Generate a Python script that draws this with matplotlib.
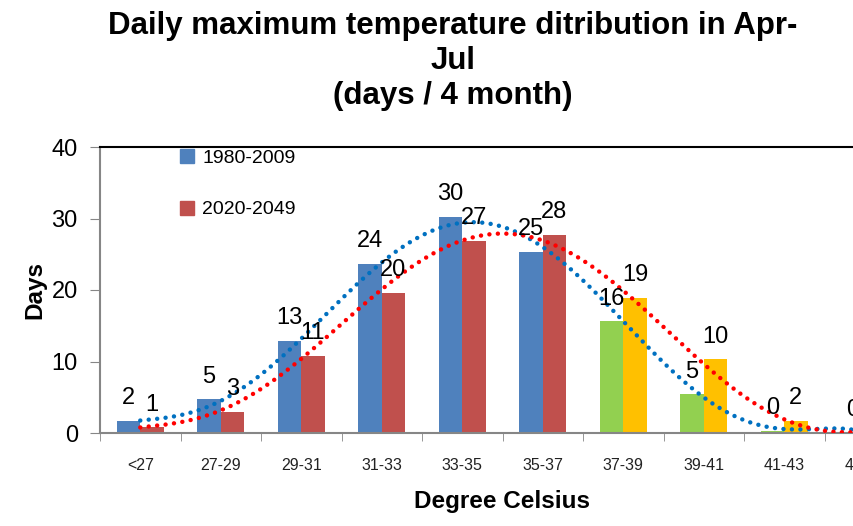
import numpy as np
import matplotlib
matplotlib.use("Agg")
import matplotlib.pyplot as plt
from matplotlib.patches import Patch

plt.rcParams['font.family'] = ['Liberation Sans', 'DejaVu Sans']

categories = ["<27", "27-29", "29-31", "31-33", "33-35", "35-37",
              "37-39", "39-41", "41-43", "43-45"]
days_1980_2009 = [1.7, 4.7, 12.9, 23.7, 30.2, 25.3, 15.6, 5.4, 0.3, 0.1]
days_2020_2049 = [0.8, 3.0, 10.8, 19.6, 26.9, 27.7, 18.9, 10.3, 1.7, 0.2]

# first six bins blue/red, hot bins green/orange
colors_past = ["#4F81BD"] * 6 + ["#92D050"] * 4
colors_future = ["#C0504D"] * 6 + ["#FFC000"] * 4

fig = plt.figure(figsize=(8.54, 5.26), dpi=100)
ax = fig.add_axes([100 / 854, 93 / 526, 805 / 854, 286 / 526])

x = np.arange(len(categories))
w = 0.29
b1 = ax.bar(x - w / 2, days_1980_2009, w, color=colors_past, zorder=2)
b2 = ax.bar(x + w / 2, days_2020_2049, w, color=colors_future, zorder=2)

for bars, vals in ((b1, days_1980_2009), (b2, days_2020_2049)):
    for r, v in zip(bars, vals):
        ax.annotate(f"{v:.0f}", (r.get_x() + r.get_width() / 2, v),
                    xytext=(0, 12), textcoords="offset points",
                    ha="center", va="baseline", fontsize=17, zorder=4,
                    annotation_clip=False)

# polynomial trendlines (order 6, like the spreadsheet)
xs = np.linspace(0, len(categories) - 1, 400)
for vals, col in ((days_1980_2009, "#0070C0"), (days_2020_2049, "#FF0000")):
    p = np.polyfit(x, vals, 6)
    ax.plot(xs, np.polyval(p, xs), color=col, lw=3.2,
            linestyle=(0, (0.01, 1.9)), dash_capstyle="round", zorder=3)

ax.set_xlim(-0.5, len(categories) - 0.5)
ax.set_ylim(0, 40)
ax.set_yticks([0, 10, 20, 30, 40])
ax.tick_params(axis="y", labelsize=17, length=7, color="#868686", pad=9)

ax.set_xticks(x)
ax.set_xticklabels(categories, fontsize=11.5, color="#222222")
ax.set_xticks(np.arange(len(categories) + 1) - 0.5, minor=True)
ax.tick_params(axis="x", which="major", length=0, pad=18)
ax.tick_params(axis="x", which="minor", length=6, color="#868686")

for s in ("left", "bottom"):
    ax.spines[s].set_color("#868686")
    ax.spines[s].set_linewidth(1.5)
ax.spines["top"].set_color("black")
ax.spines["top"].set_linewidth(1.5)
ax.spines["right"].set_visible(False)

ax.set_ylabel("Days", fontsize=17.5, fontweight="bold", labelpad=4)
ax.set_xlabel("Degree Celsius", fontsize=17.5, fontweight="bold", labelpad=12)

handles = [Patch(color="#4F81BD", label="1980-2009"),
           Patch(color="#C0504D", label="2020-2049")]
ax.legend(handles=handles, loc="upper left", bbox_to_anchor=(68 / 805, 1.035),
          frameon=False, fontsize=14, handlelength=0.75, handleheight=0.75,
          handletextpad=0.4, labelspacing=1.75, borderpad=0.1)

fig.text(453 / 854, 1 - 61 / 526,
         "Daily maximum temperature ditribution in Apr-\nJul\n(days / 4 month)",
         ha="center", va="center", fontsize=22.5, fontweight="bold",
         linespacing=1.2)

fig.savefig("out.png", dpi=100)
